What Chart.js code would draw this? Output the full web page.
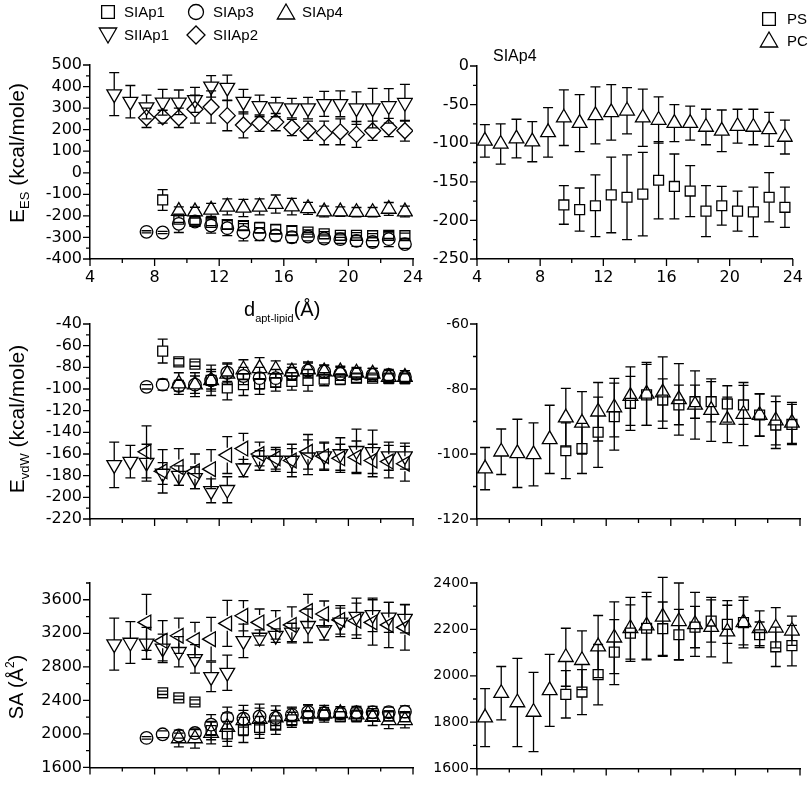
<!DOCTYPE html>
<html>
<head>
<meta charset="utf-8">
<script src="https://cdn.jsdelivr.net/npm/chart.js@4"></script>
<style>
  body { margin: 0; background: #fff; }
  #wrap { position: relative; width: 812px; height: 785px; overflow: hidden; font-family: "Liberation Sans", Arial, sans-serif; color: #000; }
  #wrap canvas { position: absolute; left: 0; top: 0; }
  .t { position: absolute; white-space: nowrap; line-height: 1; }
  .yt { position: absolute; white-space: nowrap; line-height: 1; transform: translate(-50%, -50%) rotate(-90deg); }
  sub, sup { line-height: 0; }
</style>
</head>
<body>
<div id="wrap">
  <canvas id="c0" width="812" height="785"></canvas>
  <canvas id="c1" width="812" height="785"></canvas>
  <canvas id="c2" width="812" height="785"></canvas>
  <canvas id="c3" width="812" height="785"></canvas>
  <canvas id="c4" width="812" height="785"></canvas>
  <canvas id="c5" width="812" height="785"></canvas>

  <div class="t" style="left:124px;top:4px;font-size:15px">SIAp1</div>
  <div class="t" style="left:213px;top:4px;font-size:15px">SIAp3</div>
  <div class="t" style="left:302px;top:4px;font-size:15px">SIAp4</div>
  <div class="t" style="left:124px;top:27px;font-size:15px">SIIAp1</div>
  <div class="t" style="left:213px;top:27px;font-size:15px">SIIAp2</div>
  <div class="t" style="left:787px;top:11px;font-size:15px">PS</div>
  <div class="t" style="left:787px;top:33px;font-size:15px">PC</div>
  <div class="t" style="left:493px;top:48px;font-size:16px">SIAp4</div>

  <div class="t" style="left:244px;top:299px;font-size:20px">d<sub style="font-size:11px;vertical-align:-6px">apt-lipid</sub>(Å)</div>

  <div class="yt" style="left:16px;top:153px;font-size:21px">E<sub style="font-size:13px;vertical-align:-5px">ES</sub> (kcal/mole)</div>
  <div class="yt" style="left:16px;top:419px;font-size:21px">E<sub style="font-size:13px;vertical-align:-5px">vdW</sub> (kcal/mole)</div>
  <div class="yt" style="left:16px;top:687px;font-size:20px">SA (Å<sup style="font-size:12px;vertical-align:9px">2</sup>)</div>
</div>
<script>
/* ---------- distance to lipid (x positions, Å) ---------- */
const dist = [4.5, 5.5, 6.5, 7.5, 8.5, 9.5, 10.5, 11.5, 12.5, 13.5, 14.5, 15.5, 16.5, 17.5, 18.5, 19.5, 20.5, 21.5, 22.5, 23.5];

/* ---------- E_ES, all aptamers ---------- */
const esSIAp1 = [null,null,null,null,-126,-215,-225,-230,-240,-245,-255,-262,-268,-275,-283,-290,-290,-292,-290,-292];
const esSIAp1Err = [null,null,null,null,48,15,15,15,20,20,25,20,20,10,10,10,12,10,15,12];
const esSIAp3 = [null,null,null,-274,-277,-237,-226,-245,-257,-276,-285,-291,-299,-296,-305,-308,-316,-321,-308,-331];
const esSIAp3Err = [null,null,null,5,5,40,20,35,35,40,30,25,25,20,20,20,25,22,35,20];
const esSIAp4 = [null,null,null,null,null,-178,-180,-172,-158,-163,-158,-145,-157,-165,-180,-180,-183,-183,-168,-180];
const esSIAp4Err = [null,null,null,null,null,20,20,30,37,40,37,42,38,28,25,22,22,22,30,25];
const esSIIAp1 = [null,365,330,305,327,327,338,401,395,330,310,305,300,300,320,320,300,300,310,325];
const esSIIAp1Err = [null,100,75,55,60,57,58,50,58,57,50,45,45,50,58,60,75,92,80,85];
const esSIIAp2 = [null,null,null,255,260,255,295,305,265,222,230,235,210,195,185,190,178,195,210,195];
const esSIIAp2Err = [null,null,null,45,30,45,65,75,70,60,38,40,38,45,55,60,60,45,42,48];

/* ---------- E_ES, SIAp4 with PS / PC ---------- */
const esPS = [null,null,null,null,null,-180,-186,-181,-167,-170,-166,-148,-156,-162,-188,-181,-188,-189,-170,-183];
const esPSErr = [null,null,null,null,null,25,28,40,49,55,54,50,42,33,33,25,26,32,32,26];
const esPC = [-97,-101,-94,-98,-86,-67,-74,-64,-60,-58,-67,-70,-74,-74,-79,-84,-78,-79,-82,-92];
const esPCErr = [21,26,25,26,32,36,37,37,36,30,37,30,24,22,23,27,22,23,22,22];

/* ---------- E_vdW, all aptamers ---------- */
const vdwSIAp1 = [null,null,null,null,-65,-75,-77,-92,-99,-96,-95,-94,-93,-92,-91,-91,-90,-90,-90,-90];
const vdwSIAp1Err = [null,null,null,null,11,3,2,8,11,10,10,8,8,10,6,5,4,3,4,4];
const vdwSIAp3 = [null,null,null,-98,-96,-97,-96,-92,-85,-88,-90,-90,-86,-83,-84,-86,-86,-87,-87,-89];
const vdwSIAp3Err = [null,null,null,2,5,5,8,10,8,8,10,8,6,7,6,6,5,6,5,6];
const vdwSIAp4 = [null,null,null,null,null,-95,-96,-92,-86,-82,-81,-82,-84,-82,-84,-84,-85,-86,-89,-89];
const vdwSIAp4Err = [null,null,null,null,null,10,11,14,10,9,10,8,7,7,6,5,5,5,6,6];
const vdwSIIAp1 = [null,-170,-167,-168,-178,-180,-182,-194,-193,-173,-166,-166,-166,-163,-162,-160,-157,-158,-162,-162];
const vdwSIIAp1Err = [null,21,15,17,10,9,10,11,12,8,9,10,15,16,12,15,20,20,13,12];
const vdwSIIAp2 = [null,null,null,-158,-176,-172,-176,-174,-161,-155,-160,-164,-166,-158,-162,-164,-163,-166,-167,-169];
const vdwSIIAp2Err = [null,null,null,24,20,17,16,18,17,14,11,10,11,16,13,13,15,15,15,16];

/* ---------- E_vdW, SIAp4 with PS / PC ---------- */
const vdwPS = [null,null,null,null,null,-99,-98.3,-93.3,-88.5,-84.4,-81.8,-83.4,-84.9,-83.9,-83.9,-84.6,-84.9,-88,-91.1,-90.9];
const vdwPSErr = [null,null,null,null,null,8.6,7.7,10.8,10.3,8.3,9.4,6.5,6.1,5.1,6.2,5.6,6,6.4,7.2,6.2];
const vdwPC = [-104.5,-99.3,-99.8,-100.1,-95.5,-88.8,-90.4,-87,-85.7,-82.2,-81.5,-81.1,-83.2,-84.9,-86.5,-89.5,-87.7,-88,-89.7,-90.4];
const vdwPCErr = [6.5,7,10.5,9.7,10.5,9,9.6,9,9,9,9.7,11,11,10.5,9.6,7,9.7,6.6,7.5,6.3];

/* ---------- SA, all aptamers ---------- */
const saSIAp1 = [null,null,null,null,2490,2430,2380,2040,2000,2047,2077,2104,2168,2206,2225,2206,2214,2214,2214,2206];
const saSIAp1Err = [null,null,null,null,20,20,25,110,150,150,130,110,90,70,60,60,70,60,60,60];
const saSIAp3 = [null,null,null,1952,1995,1980,2010,2110,2190,2180,2208,2190,2227,2262,2246,2246,2258,2258,2258,2265];
const saSIAp3Err = [null,null,null,15,40,30,40,120,130,100,100,90,80,80,70,60,70,70,60,70];
const saSIAp4 = [null,null,null,null,null,1945,1945,2010,2080,2160,2175,2195,2210,2240,2240,2246,2230,2200,2162,2162];
const saSIAp4Err = [null,null,null,null,null,100,115,130,170,180,180,140,110,110,100,80,80,100,100,90];
const saSIIAp1 = [null,3070,3090,3080,3020,2980,2895,2680,2730,3110,3150,3172,3210,3290,3240,3330,3400,3420,3390,3375];
const saSIIAp1Err = [null,310,250,190,170,180,170,175,210,200,90,80,110,200,120,170,220,200,180,170];
const saSIIAp2 = [null,null,null,3330,3110,3170,3120,3130,3318,3410,3330,3300,3300,3465,3430,3360,3350,3330,3300,3270];
const saSIIAp2Err = [null,null,null,335,240,210,210,260,275,180,160,170,215,200,155,170,210,270,270,270];

/* ---------- SA, SIAp4 with PS / PC ---------- */
const saPS = [null,null,null,null,null,1920,1930,2005,2102,2184,2205,2203,2177,2210,2236,2222,2229,2177,2125,2130];
const saPSErr = [null,null,null,null,null,102,97,130,140,122,136,115,109,89,91,82,96,55,85,87];
const saPC = [1820,1925,1885,1844,1937,2080,2067,2126,2164,2205,2216,2254,2235,2222,2210,2190,2230,2205,2207,2194];
const saPCErr = [125,115,190,171,155,125,127,134,155,133,144,170,165,138,128,134,110,75,87,63];

/* ---------- marker shapes (hollow, black) ---------- */
const shapes = {
  square:  { pointStyle: "rect", radius: 7, rotation: 0, gap: [5, 5] },
  circle:  { pointStyle: "circle", radius: 6.3, rotation: 0, gap: [6.3, 6.3] },
  up:      { pointStyle: "triangle", radius: 8.5, rotation: 0, gap: [8.5, 4.3] },
  down:    { pointStyle: "triangle", radius: 8.5, rotation: 180, gap: [4.3, 8.5] },
  diamond: { pointStyle: "rectRot", radius: 8, rotation: 0, gap: [8, 8] },
  left:    { pointStyle: "triangle", radius: 8.5, rotation: 270, gap: [7.4, 7.4] },
};

const series = (vals, errs, shape) => {
  const s = shapes[shape];
  const pts = [];
  dist.forEach((x, i) => {
    if (vals[i] !== null) pts.push({ x: x, y: vals[i], e: errs[i] });
  });
  return {
    data: pts,
    gap: s.gap,
    showLine: false,
    pointStyle: s.pointStyle,
    pointRadius: s.radius,
    pointRotation: s.rotation,
    pointBorderColor: "#000",
    pointBackgroundColor: "rgba(0,0,0,0)",
    pointBorderWidth: 1.3,
  };
};

const isMajor = (v, major) => Math.abs(v / major - Math.round(v / major)) < 1e-6;

/* --------------- Error bars: line from marker edge to a cap --------------- */
const errorBars = {
  id: "errorBars",
  afterDatasetsDraw(chart) {
    const { ctx } = chart;
    const xs = chart.scales.x, ys = chart.scales.y;
    ctx.save();
    ctx.strokeStyle = "#000";
    ctx.lineWidth = 1.3;
    chart.data.datasets.forEach((ds) => {
      ds.data.forEach((p) => {
        const px = xs.getPixelForValue(p.x);
        const py = ys.getPixelForValue(p.y);
        const top = ys.getPixelForValue(p.y + p.e);
        const bot = ys.getPixelForValue(p.y - p.e);
        ctx.beginPath();
        if (top < py - ds.gap[0]) { ctx.moveTo(px, py - ds.gap[0]); ctx.lineTo(px, top); }
        if (bot > py + ds.gap[1]) { ctx.moveTo(px, py + ds.gap[1]); ctx.lineTo(px, bot); }
        ctx.moveTo(px - 5, top); ctx.lineTo(px + 5, top);
        ctx.moveTo(px - 5, bot); ctx.lineTo(px + 5, bot);
        ctx.stroke();
      });
    });
    ctx.restore();
  },
};

/* --------------- Outward major / minor tick marks --------------- */
const axisTicks = {
  id: "axisTicks",
  afterDraw(chart, args, opts) {
    const { ctx, chartArea } = chart;
    const xs = chart.scales.x, ys = chart.scales.y;
    ctx.save();
    ctx.strokeStyle = "#000";
    ctx.lineWidth = 1.3;
    ctx.beginPath();
    xs.ticks.forEach((t) => {
      const px = xs.getPixelForValue(t.value);
      const len = isMajor(t.value, opts.xMajor) ? 7 : 4;
      ctx.moveTo(px, chartArea.bottom);
      ctx.lineTo(px, chartArea.bottom + len);
    });
    ys.ticks.forEach((t) => {
      const py = ys.getPixelForValue(t.value);
      const len = isMajor(t.value, opts.yMajor) ? 7 : 4;
      ctx.moveTo(chartArea.left, py);
      ctx.lineTo(chartArea.left - len, py);
    });
    ctx.stroke();
    ctx.restore();
  },
};

/* --------------- Legend symbols --------------- */
const legendMarks = {
  id: "legendMarks",
  afterDraw(chart, args, opts) {
    if (!opts || !opts.items) return;
    const ctx = chart.ctx;
    ctx.save();
    ctx.strokeStyle = "#000";
    ctx.fillStyle = "rgba(0,0,0,0)";
    ctx.lineWidth = 1.3;
    opts.items.forEach((it) => {
      const s = shapes[it.shape];
      Chart.helpers.drawPoint(ctx, { pointStyle: s.pointStyle, rotation: s.rotation, radius: it.r, borderWidth: 1.3 }, it.x, it.y);
    });
    ctx.restore();
  },
};

/* --------------- One panel --------------- */
function panel(id, box, yr, sets, showX, fontSize, legendItems) {
  const font = { family: "'DejaVu Sans', sans-serif", size: fontSize };
  const xh = showX ? 30 : 8;
  return new Chart(document.getElementById(id), {
    type: "scatter",
    data: { datasets: sets },
    options: {
      responsive: false,
      animation: false,
      events: [],
      layout: { padding: { left: box[0] - 60, top: box[1], right: 812 - box[2], bottom: 785 - box[3] - xh } },
      plugins: {
        legend: { display: false },
        tooltip: { enabled: false },
        axisTicks: { xMajor: 4, yMajor: yr.major },
        legendMarks: { items: legendItems || null },
      },
      scales: {
        x: {
          type: "linear", min: 4, max: 24,
          afterFit: (s) => { s.height = xh; },
          grid: { display: false, drawTicks: false },
          border: { display: true, color: "#000", width: 1.5 },
          ticks: {
            display: showX, stepSize: 2, autoSkip: false, maxRotation: 0, padding: 9, color: "#000", font,
            callback: (v) => (isMajor(v, 4) ? v : ""),
          },
        },
        y: {
          type: "linear", min: yr.min, max: yr.max,
          afterFit: (s) => { s.width = 60; },
          grid: { display: false, drawTicks: false },
          border: { display: true, color: "#000", width: 1.5 },
          ticks: {
            stepSize: yr.step, autoSkip: false, padding: 8, color: "#000", font,
            callback: (v) => (isMajor(v, yr.major) ? v : ""),
          },
        },
      },
    },
    plugins: [errorBars, axisTicks, legendMarks],
  });
}

panel("c0", [90, 65, 413, 259], { min: -400, max: 500, step: 50, major: 100 }, [
  series(esSIAp1, esSIAp1Err, "square"),
  series(esSIAp3, esSIAp3Err, "circle"),
  series(esSIAp4, esSIAp4Err, "up"),
  series(esSIIAp1, esSIIAp1Err, "down"),
  series(esSIIAp2, esSIIAp2Err, "diamond"),
], true, 16, [
  { shape: "square", r: 9, x: 108, y: 12 },
  { shape: "circle", r: 7.5, x: 196, y: 12 },
  { shape: "up", r: 10, x: 286, y: 14 },
  { shape: "down", r: 10, x: 108, y: 33 },
  { shape: "diamond", r: 9, x: 196, y: 35 },
]);

panel("c1", [477, 66, 800, 259], { min: -250, max: 0, step: 25, major: 50 }, [
  series(esPS, esPSErr, "square"),
  series(esPC, esPCErr, "up"),
], true, 16, [
  { shape: "square", r: 9, x: 769, y: 19 },
  { shape: "up", r: 10, x: 769, y: 42 },
]);

panel("c2", [90, 324, 413, 519], { min: -220, max: -40, step: 10, major: 20 }, [
  series(vdwSIAp1, vdwSIAp1Err, "square"),
  series(vdwSIAp3, vdwSIAp3Err, "circle"),
  series(vdwSIAp4, vdwSIAp4Err, "up"),
  series(vdwSIIAp1, vdwSIIAp1Err, "down"),
  series(vdwSIIAp2, vdwSIIAp2Err, "left"),
], false, 16);

panel("c3", [477, 324, 800, 519], { min: -120, max: -60, step: 10, major: 20 }, [
  series(vdwPS, vdwPSErr, "square"),
  series(vdwPC, vdwPCErr, "up"),
], false, 14);

panel("c4", [90, 583, 413, 777], { min: 1600, max: 3800, step: 200, major: 400 }, [
  series(saSIAp1, saSIAp1Err, "square"),
  series(saSIAp3, saSIAp3Err, "circle"),
  series(saSIAp4, saSIAp4Err, "up"),
  series(saSIIAp1, saSIIAp1Err, "down"),
  series(saSIIAp2, saSIIAp2Err, "left"),
], false, 16);

panel("c5", [477, 583, 800, 777], { min: 1600, max: 2400, step: 100, major: 200 }, [
  series(saPS, saPSErr, "square"),
  series(saPC, saPCErr, "up"),
], false, 14);
</script>
</body>
</html>
